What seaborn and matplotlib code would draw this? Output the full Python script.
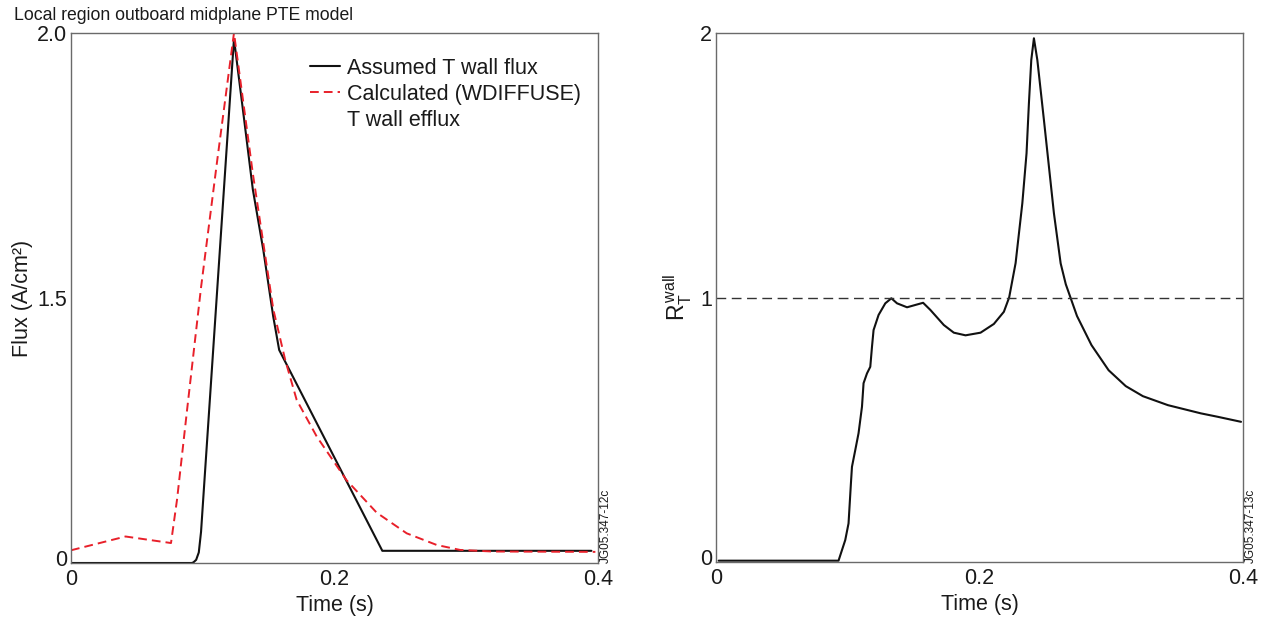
import numpy as np
import pandas as pd
import matplotlib
matplotlib.use("Agg")
import matplotlib.pyplot as plt
from matplotlib.lines import Line2D
from matplotlib.transforms import ScaledTranslation
import seaborn as sns

# ---------------- data ----------------
# Left panel: local region outboard midplane PTE model (flux, A/cm^2)
assumed_t = [0.0, 0.0917, 0.093, 0.095, 0.097, 0.0987, 0.1015, 0.1237, 0.131, 0.138,
             0.146, 0.1535, 0.158, 0.2363, 0.395]
assumed_flux = [0.0, 0.0, 0.004, 0.018, 0.06, 0.176, 0.49, 1.989, 1.845, 1.705,
                1.59, 1.395, 1.206, 0.069, 0.069]

calc_t = [0.0, 0.0414, 0.0759, 0.0805, 0.088, 0.0987, 0.111, 0.1237, 0.1275, 0.138,
          0.1457, 0.1536, 0.1626, 0.1713, 0.1865, 0.209, 0.232, 0.2548, 0.2776,
          0.2953, 0.32, 0.398]
calc_flux = [0.072, 0.15, 0.113, 0.36, 0.86, 1.52, 1.76, 2.0, 1.93, 1.735,
             1.608, 1.434, 1.149, 0.923, 0.716, 0.47, 0.285, 0.168, 0.102,
             0.074, 0.065, 0.063]

# Right panel: R_T^wall
r_t = [0.002, 0.093, 0.0981, 0.1006, 0.1024, 0.1032, 0.1057, 0.1082, 0.1108, 0.112,
       0.1146, 0.1171, 0.1184, 0.1196, 0.1234, 0.1285, 0.1331, 0.1374, 0.145, 0.1572,
       0.1627, 0.1729, 0.1805, 0.1894, 0.2008, 0.2109, 0.2185, 0.2225, 0.2274, 0.2325,
       0.2357, 0.2375, 0.2393, 0.2413, 0.2439, 0.2489, 0.2565, 0.2616, 0.2655, 0.274,
       0.285, 0.298, 0.311, 0.324, 0.343, 0.368, 0.3808, 0.3985]
r_val = [0.005, 0.005, 0.083, 0.146, 0.297, 0.36, 0.423, 0.487, 0.587, 0.676,
         0.713, 0.738, 0.814, 0.877, 0.934, 0.978, 0.997, 0.978, 0.963, 0.98,
         0.953, 0.896, 0.867, 0.857, 0.867, 0.90, 0.946, 1.0, 1.13, 1.356,
         1.545, 1.734, 1.898, 1.98, 1.898, 1.671, 1.318, 1.129, 1.05, 0.93,
         0.82, 0.725, 0.665, 0.627, 0.593, 0.562, 0.549, 0.530]

x_ticks = [0, 0.2, 0.4]
x_ticklabels = ["0", "0.2", "0.4"]
left_yticks = [0, 1.5, 2.0]
left_yticklabels = ["0", "1.5", "2.0"]
right_yticks = [0, 1, 2]
right_yticklabels = ["0", "1", "2"]
reference_level = 1.0

legend_labels = ["Assumed T wall flux", "Calculated (WDIFFUSE)", "T wall efflux"]

# ---------------- style ----------------
sns.set_theme(style="white")
plt.rcParams["font.family"] = ["Liberation Sans", "DejaVu Sans"]
plt.rcParams["mathtext.fontset"] = "custom"
plt.rcParams["mathtext.rm"] = "Liberation Sans"
plt.rcParams["mathtext.it"] = "Liberation Sans"
FS = 15.5
TXT = "#1a1a1a"
SPINE = "#6a6a6a"

fig = plt.figure(figsize=(12.65, 6.18), dpi=100)
W, H = 1265, 618
axL = fig.add_axes([71 / W, (H - 563) / H, 527 / W, 530 / H])
axR = fig.add_axes([716 / W, (H - 562) / H, 527 / W, 529 / H])

# piecewise-linear y scale of the left panel (0, 1.5, 2.0 evenly spaced)
def fwd(y):
    y = np.asarray(y, dtype=float)
    return np.where(y <= 1.5, y / 1.5, 1.0 + (y - 1.5) / 0.5)

def inv(p):
    p = np.asarray(p, dtype=float)
    return np.where(p <= 1.0, p * 1.5, 1.5 + (p - 1.0) * 0.5)

axL.set_yscale("function", functions=(fwd, inv))

dfA = pd.DataFrame({"t": assumed_t, "flux": assumed_flux})
dfC = pd.DataFrame({"t": calc_t, "flux": calc_flux})
dfR = pd.DataFrame({"t": r_t, "r": r_val})

sns.lineplot(data=dfA, x="t", y="flux", ax=axL, color="#111111", lw=1.5,
             sort=False, estimator=None)
sns.lineplot(data=dfC, x="t", y="flux", ax=axL, color="#e8202a", lw=1.4,
             sort=False, estimator=None)
axL.lines[-1].set_dashes((4.5, 2.6))

sns.lineplot(data=dfR, x="t", y="r", ax=axR, color="#111111", lw=1.5,
             sort=False, estimator=None)
axR.axhline(reference_level, color="#333333", lw=1.0, dashes=(7, 4))

for ax in (axL, axR):
    ax.set_xlim(0, 0.4)
    ax.set_xticks(x_ticks)
    ax.set_xticklabels(x_ticklabels)
    for s in ax.spines.values():
        s.set_visible(True)
        s.set_color(SPINE)
        s.set_linewidth(1.0)
    ax.tick_params(direction="in", length=9, width=1.0, color=SPINE,
                   labelsize=FS, labelcolor=TXT, pad=3)
    ax.tick_params(axis="x", pad=4)
    ax.set_xlabel("Time (s)", fontsize=FS, color=TXT, labelpad=4)

axL.set_ylim(0, 2.0)
axL.set_yticks(left_yticks)
axL.set_yticklabels(left_yticklabels)
axL.minorticks_off()
axL.set_ylabel("Flux (A/cm²)", fontsize=FS, color=TXT, labelpad=3)

axR.set_ylim(0, 2)
axR.set_yticks(right_yticks)
axR.set_yticklabels(right_yticklabels)
axR.set_ylabel(r"$\mathregular{R_T^{\,wall}}$", fontsize=16.5, color=TXT, labelpad=4)

# the "0" labels sit slightly above the bottom spine
for ax in (axL, axR):
    lab = ax.get_yticklabels()[0]
    lab.set_transform(lab.get_transform() + ScaledTranslation(0, 5 / 100, fig.dpi_scale_trans))

# legend
handles = [Line2D([], [], color="#111111", lw=1.5),
           Line2D([], [], color="#e8202a", lw=1.4, dashes=(4.5, 2.6)),
           Line2D([], [], color="none")]
axL.legend(handles, legend_labels, loc="upper left",
           bbox_to_anchor=((310 - 71) / 527, (563 - 58) / 530),
           frameon=False, fontsize=FS, handlelength=1.4, handletextpad=0.33,
           labelspacing=0.23, borderpad=0, borderaxespad=0,
           labelcolor=TXT)

fig.text(14 / W, 1 - 15 / H, "Local region outboard midplane PTE model",
         fontsize=12.7, color=TXT, ha="left", va="center")

fig.text(606 / W, 1 - 563 / H, "JG05.347-12c", rotation=90, fontsize=8.5,
         color=TXT, ha="center", va="bottom")
fig.text(1251 / W, 1 - 563 / H, "JG05.347-13c", rotation=90, fontsize=8.5,
         color=TXT, ha="center", va="bottom")

fig.savefig("out.png", dpi=100)
